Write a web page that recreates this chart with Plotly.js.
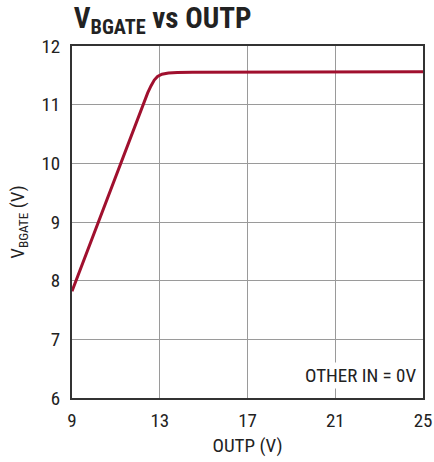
<!DOCTYPE html>
<html>
<head>
<meta charset="utf-8">
<script src="https://cdn.plot.ly/plotly-3.0.1.min.js"></script>
<style>html,body{margin:0;padding:0;background:#fff;}#chart{width:434px;height:462px;}</style>
</head>
<body>
<div id="chart"></div>
<script>
const outp = [9, 10.2, 11.23, 12.25, 12.45, 12.6, 12.75, 12.9, 13.1, 13.4, 13.8, 14.5, 17, 21, 25];
const vbgate = [7.82, 9.0, 10.0, 11.0, 11.2, 11.32, 11.42, 11.48, 11.52, 11.54, 11.55, 11.553, 11.555, 11.56, 11.56];
const xTicks = [9, 13, 17, 21, 25];
const yTicks = [6, 7, 8, 9, 10, 11, 12];

const FONT = '"Liberation Sans Narrow", "Arial Narrow", "Roboto Condensed", sans-serif';

const trace = {
  x: outp, y: vbgate, type: 'scatter', mode: 'lines',
  line: {color: '#A0102E', width: 3, shape: 'linear'},
  hoverinfo: 'skip'
};

const layout = {
  width: 434, height: 462,
  margin: {l: 72, r: 11, t: 46, b: 64},
  paper_bgcolor: '#fff', plot_bgcolor: '#fff',
  showlegend: false,
  font: {family: FONT, size: 19, color: '#222'},
  title: {
    text: '<b>V<sub>BGATE</sub> vs OUTP</b>',
    font: {family: FONT, size: 29, color: '#222'},
    x: 0.005, xref: 'paper', xanchor: 'left', y: 0.962, yref: 'container', yanchor: 'middle'
  },
  xaxis: {
    range: [9, 25], tickvals: xTicks, ticktext: xTicks.map(String),
    showgrid: true, gridcolor: '#9a9a9a', gridwidth: 1,
    showline: true, linecolor: '#333', linewidth: 2, mirror: true,
    zeroline: false, ticks: '', ticklen: 0, ticklabelstandoff: 4,
    tickfont: {family: FONT, size: 19, color: '#222'},
    title: {text: 'OUTP (V)', font: {family: FONT, size: 19, color: '#222'}, standoff: 8}
  },
  yaxis: {
    range: [6, 12], tickvals: yTicks, ticktext: yTicks.map(String),
    showgrid: true, gridcolor: '#9a9a9a', gridwidth: 1,
    showline: true, linecolor: '#333', linewidth: 2, mirror: true,
    zeroline: false, ticks: '', ticklen: 0, ticklabelstandoff: 6,
    tickfont: {family: FONT, size: 19, color: '#222'},
    title: {text: 'V<sub>BGATE</sub> (V)', font: {family: FONT, size: 19, color: '#222'}, standoff: 12}
  },
  annotations: [{
    text: 'OTHER IN = 0V', xref: 'paper', yref: 'paper', x: 0.985, y: 0.025,
    xanchor: 'right', yanchor: 'bottom', showarrow: false,
    bgcolor: '#fff', font: {family: FONT, size: 19, color: '#222'}
  }]
};

Plotly.newPlot('chart', [trace], layout, {displayModeBar: false, staticPlot: true});
</script>
</body>
</html>
